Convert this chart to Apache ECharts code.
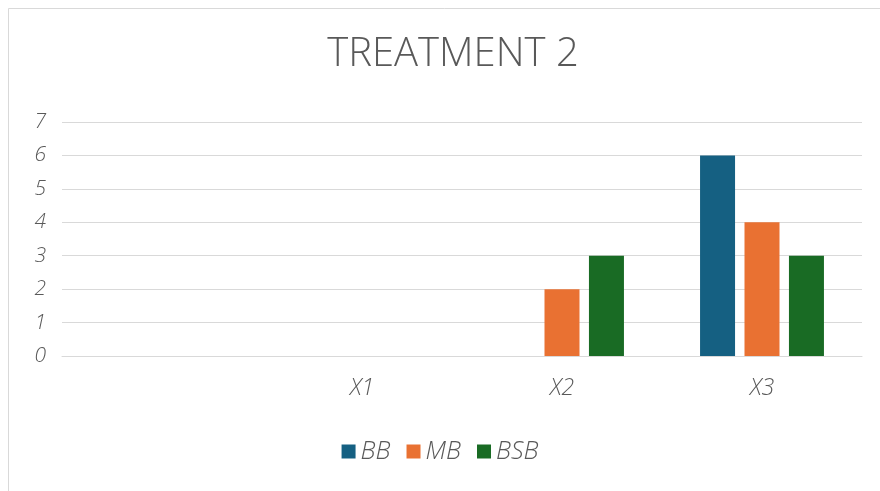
<!DOCTYPE html>
<html><head><meta charset="utf-8">
<script src="https://cdn.jsdelivr.net/npm/echarts@6/dist/echarts.min.js"></script>
<style>html,body{margin:0;padding:0;background:#fff}#c{width:880px;height:491px}</style>
</head><body><div id="c"></div>
<script>
var categories = ['', 'X1', 'X2', 'X3'];
var bbValues = [0, 0, 0, 6];
var mbValues = [0, 0, 2, 4];
var bsbValues = [0, 0, 3, 3];
var yTicks = [0, 1, 2, 3, 4, 5, 6, 7];

var FONT = '"Open Sans",sans-serif';
var chart = echarts.init(document.getElementById('c'));
chart.setOption({
  animation: false,
  backgroundColor: '#fff',
  graphic: [{type: 'rect', shape: {x: 8.5, y: 8.5, width: 900, height: 500}, style: {fill: 'none', stroke: '#d9d9d9', lineWidth: 1}, silent: true}],
  title: {text: 'TREATMENT 2', left: 448, top: 30, textAlign: 'center',
    textStyle: {fontFamily: FONT, fontSize: 40, fontWeight: 300, color: '#595959'}},
  legend: {bottom: 22, left: 'center', itemWidth: 14, itemHeight: 14, itemGap: 16, icon: 'rect',
    textStyle: {fontFamily: FONT, fontSize: 25, color: '#595959', fontStyle: 'italic', fontWeight: 300},
    data: ['BB', 'MB', 'BSB']},
  grid: {left: 62, right: 18, top: 122, bottom: 135},
  xAxis: {type: 'category', data: categories,
    axisLine: {show: true, lineStyle: {color: '#d9d9d9'}}, axisTick: {show: false},
    axisLabel: {fontFamily: FONT, fontSize: 23, color: '#595959', margin: 21, fontStyle: 'italic', fontWeight: 300}},
  yAxis: {type: 'value', min: 0, max: 7, interval: 1,
    axisLine: {show: false}, axisTick: {show: false},
    splitLine: {lineStyle: {color: '#d9d9d9', width: 1}},
    axisLabel: {fontFamily: FONT, fontSize: 21, color: '#595959', margin: 16, fontStyle: 'italic', fontWeight: 300,
      formatter: function (v) { return yTicks.indexOf(v) >= 0 ? String(v) : ''; }}},
  series: [
    {name: 'BB', type: 'bar', data: bbValues, itemStyle: {color: '#156082'}, barWidth: 35, barGap: '27%'},
    {name: 'MB', type: 'bar', data: mbValues, itemStyle: {color: '#e97132'}, barWidth: 35, barGap: '27%'},
    {name: 'BSB', type: 'bar', data: bsbValues, itemStyle: {color: '#196b24'}, barWidth: 35, barGap: '27%'}
  ]
});
</script></body></html>
